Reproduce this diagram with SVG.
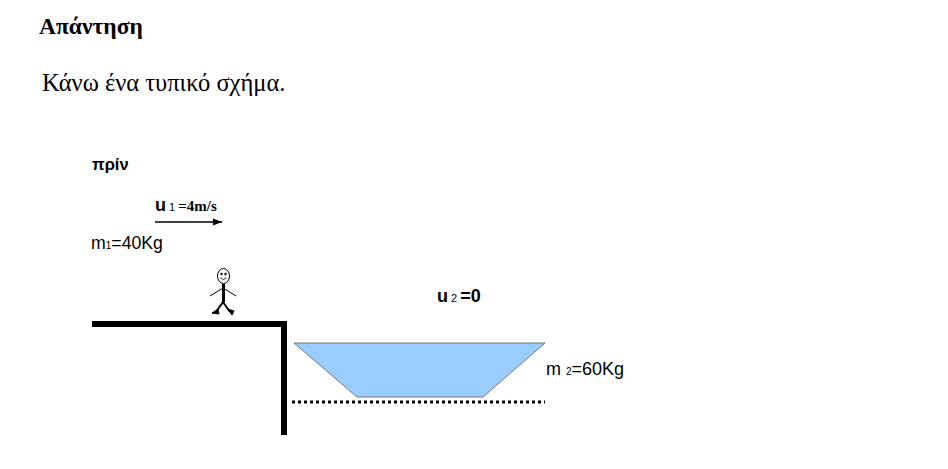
<svg xmlns="http://www.w3.org/2000/svg" width="948" height="469" viewBox="0 0 948 469">
<style>
.s{font-family:"Liberation Sans",Arial,sans-serif;fill:#000}
.b{font-weight:bold}
.t{font-family:"Liberation Serif","Times New Roman",serif;fill:#000}
</style>
<defs><marker id="ar" viewBox="0 0 10 10" refX="10" refY="5" markerWidth="7" markerHeight="7" orient="auto"><path d="M0,1 L10,5 L0,9 Z" fill="#000"/></marker></defs>
<rect width="948" height="469" fill="#fff"/>
<text class="t b" x="39" y="34" font-size="23.5">Απάντηση</text>
<text class="t" x="42" y="91" font-size="24.5">Κάνω ένα τυπικό σχήμα.</text>
<g id="labels">
<text class="s b" x="92" y="170" font-size="16.5">πρίν</text>
<text class="s b" x="155" y="211" font-size="18">u<tspan font-size="11" font-weight="normal"> 1 </tspan><tspan font-size="15" font-family="Liberation Serif,serif">=4m/s</tspan></text>
<text class="s" x="91" y="249" font-size="17.7">m<tspan font-size="10">1</tspan>=40Kg</text>
<text class="s b" x="437" y="302" font-size="18">u<tspan font-size="11" font-weight="normal"> 2 </tspan>=0</text>
<text class="s" x="546" y="375" font-size="18">m <tspan font-size="10">2</tspan>=60Kg</text>
</g>
<g id="connectors">
<line x1="155" y1="222" x2="222" y2="222" stroke="#000" stroke-width="1.3" marker-end="url(#ar)"/>
</g>
<g id="dock">
<path d="M92,324 H284 V435" fill="none" stroke="#000" stroke-width="6"/>
</g>
<g id="person" stroke="#000" fill="none">
<ellipse cx="223.5" cy="276" rx="6" ry="7.5" stroke-width="1"/>
<circle cx="221.5" cy="274" r="0.8" fill="#000"/>
<circle cx="225.5" cy="274" r="0.8" fill="#000"/>
<path d="M220.5,278 Q223.5,281 226.5,278" stroke-width="0.8"/>
<line x1="223.5" y1="284" x2="223.5" y2="302" stroke-width="3"/>
<path d="M210,296 L223,288 L236,296" stroke-width="1"/>
<path d="M223,302 L216,312 M223,302 L230,312" stroke-width="2"/>
<path d="M212,313 L218,309 L219,314 Z M228,309 L234,311 L232,315 Z" fill="#000" stroke-width="1"/>
</g>
<g id="boat">
<polygon points="294,343 545,343 483,397 357,397" fill="#99ccff" stroke="#777" stroke-width="1"/>
<line x1="292" y1="402" x2="545" y2="402" stroke="#000" stroke-width="3" stroke-dasharray="3,3"/>
</g>
</svg>
